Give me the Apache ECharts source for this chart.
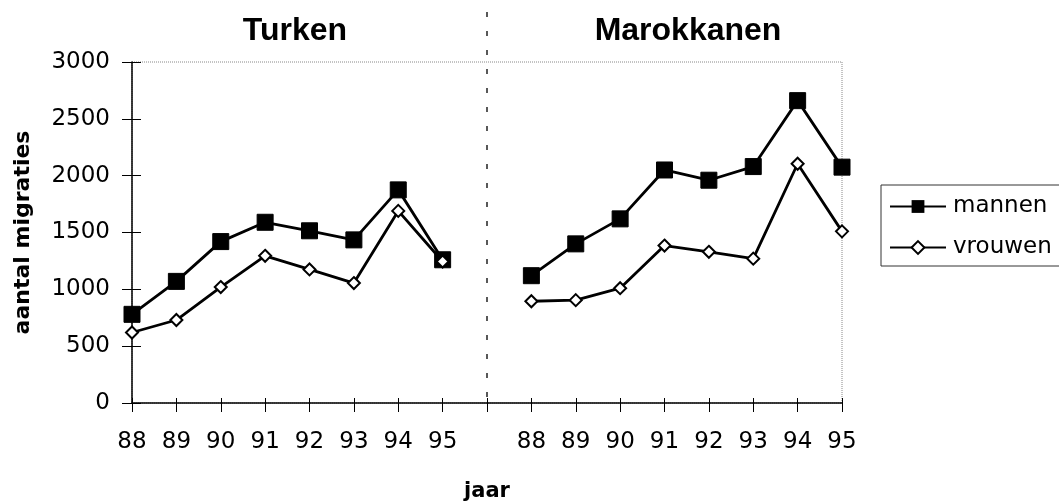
<!DOCTYPE html>
<html>
<head>
<meta charset="utf-8">
<script src="https://cdn.jsdelivr.net/npm/echarts@6/dist/echarts.min.js"></script>
<style>
  html, body { margin: 0; padding: 0; background: #fff; }
  #chart { width: 1059px; height: 501px; }
</style>
</head>
<body>
<div id="chart"></div>
<script>
// jaren per groep, met een lege categorie als scheiding
const years = ['88', '89', '90', '91', '92', '93', '94', '95'];
const categories = years.concat([''], years);

const turkenMannen = [780, 1070, 1420, 1590, 1515, 1435, 1875, 1260];
const turkenVrouwen = [620, 730, 1020, 1295, 1175, 1055, 1690, 1245];
const marokMannen = [1120, 1400, 1620, 2050, 1960, 2080, 2660, 2075];
const marokVrouwen = [895, 905, 1010, 1385, 1330, 1270, 2105, 1510];

const yTicks = [0, 500, 1000, 1500, 2000, 2500, 3000];

const gap = new Array(9).fill('-');
const left = vals => vals.concat(gap);
const right = vals => gap.concat(vals);

const titleFont = 'Liberation Sans, Arial, sans-serif';
const font = 'DejaVu Sans, sans-serif';

const mannenStyle = {
  type: 'line',
  name: 'mannen',
  symbol: 'rect',
  symbolSize: 16,
  lineStyle: { color: '#000', width: 2.8 },
  itemStyle: { color: '#000', borderColor: '#000' },
  connectNulls: false
};
const vrouwenStyle = {
  type: 'line',
  name: 'vrouwen',
  symbol: 'diamond',
  symbolSize: 12,
  lineStyle: { color: '#000', width: 2.8 },
  itemStyle: { color: '#fff', borderColor: '#000', borderWidth: 2 },
  connectNulls: false
};

const chart = echarts.init(document.getElementById('chart'));
const option = {
  animation: false,
  backgroundColor: '#fff',
  textStyle: { fontFamily: font, color: '#000' },
  title: [
    { text: 'Turken', left: 290, top: 10, textAlign: 'center',
      textStyle: { fontFamily: titleFont, fontSize: 32, fontWeight: 'bold', color: '#000' } },
    { text: 'Marokkanen', left: 683, top: 10, textAlign: 'center',
      textStyle: { fontFamily: titleFont, fontSize: 32, fontWeight: 'bold', color: '#000' } }
  ],
  grid: {
    left: 132, right: 217, top: 62, bottom: 98,
    outerBoundsMode: 'none',
    show: true, borderColor: '#888', borderWidth: 1, borderType: 'dotted'
  },
  legend: {
    data: ['mannen', 'vrouwen'],
    orient: 'vertical',
    left: 881, top: 185,
    padding: [10, 40, 7, 8],
    itemWidth: 56, itemHeight: 16, itemGap: 18,
    borderColor: '#333', borderWidth: 1,
    textStyle: { fontFamily: font, fontSize: 23, color: '#000', padding: [0, 0, 0, 2] }
  },
  xAxis: [{
    type: 'category',
    data: categories,
    boundaryGap: false,
    name: 'jaar',
    nameLocation: 'middle',
    nameGap: 78,
    nameTextStyle: { fontFamily: font, fontSize: 21, fontWeight: 'bold', color: '#000' },
    axisLine: { lineStyle: { color: '#000', width: 1.5 } },
    axisTick: { alignWithLabel: true, length: 9, lineStyle: { color: '#000' }, interval: 0 },
    axisLabel: { interval: 0, margin: 28, fontFamily: font, fontSize: 23, color: '#000' },
    splitLine: { show: false }
  }, {
    type: 'category',
    data: categories,
    boundaryGap: false,
    position: 'bottom',
    axisLine: { show: false },
    axisTick: { inside: true, length: 5, interval: 0, lineStyle: { color: '#000' } },
    axisLabel: { show: false },
    splitLine: { show: false }
  }],
  yAxis: [{
    type: 'value',
    min: yTicks[0], max: yTicks[yTicks.length - 1], interval: 500,
    name: 'aantal migraties',
    nameLocation: 'middle',
    nameGap: 98,
    nameTextStyle: { fontFamily: font, fontSize: 22, fontWeight: 'bold', color: '#000' },
    axisLine: { show: true, lineStyle: { color: '#000', width: 1.5 } },
    axisTick: { show: true, length: 10, lineStyle: { color: '#000' } },
    axisLabel: { margin: 22, fontFamily: font, fontSize: 23, color: '#000',
      formatter: v => String(v) },
    splitLine: { show: false }
  }, {
    type: 'value',
    min: yTicks[0], max: yTicks[yTicks.length - 1], interval: 500,
    position: 'left',
    axisLine: { show: false },
    axisTick: { show: true, inside: true, length: 9, lineStyle: { color: '#000' } },
    axisLabel: { show: false },
    splitLine: { show: false }
  }],
  series: [
    Object.assign({}, mannenStyle, { data: left(turkenMannen) }),
    Object.assign({}, mannenStyle, { data: right(marokMannen) }),
    Object.assign({}, vrouwenStyle, { data: left(turkenVrouwen) }),
    Object.assign({}, vrouwenStyle, { data: right(marokVrouwen) })
  ]
};
chart.setOption(option);

// gestippelde scheidingslijn tussen de twee groepen
const sepX = chart.convertToPixel({ xAxisIndex: 0 }, 8);
const yTop = chart.convertToPixel({ yAxisIndex: 0 }, yTicks[yTicks.length - 1]);
const yBottom = chart.convertToPixel({ yAxisIndex: 0 }, yTicks[0]);
chart.setOption({
  graphic: [{
    type: 'line',
    shape: { x1: sepX, y1: yTop - 50, x2: sepX, y2: yBottom + 8 },
    style: { stroke: '#222', lineWidth: 1.5, lineDash: [5, 14] },
    z: 10
  }]
});
</script>
</body>
</html>
